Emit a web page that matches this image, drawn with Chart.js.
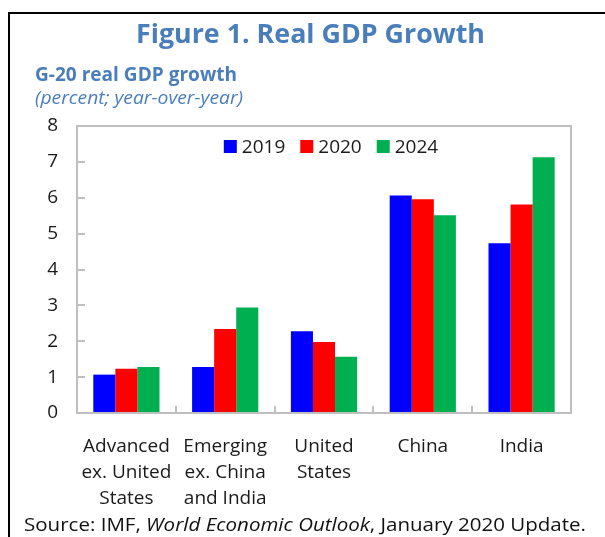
<!DOCTYPE html>
<html>
<head>
<meta charset="utf-8">
<script src="https://cdn.jsdelivr.net/npm/chart.js@4.4.1/dist/chart.umd.min.js"></script>
<style>
  html, body { margin: 0; padding: 0; background: #fff; overflow: hidden; }
  #wrap { position: relative; width: 605px; height: 537px; font-family: "Open Sans", sans-serif; }
  #frame { position: absolute; left: 8px; top: 12px; width: 640px; height: 600px;
           border-left: 2px solid #000; border-top: 2px solid #000; }
  .txt { position: absolute; white-space: nowrap; line-height: 1; transform-origin: 0 0; }
  .blue { color: #4a7ebb; }
  #chart { position: absolute; left: 0; top: 0; }
</style>
</head>
<body>
<div id="wrap">
  <div id="frame"></div>
  <canvas id="chart" width="605" height="537"></canvas>
  <div class="txt blue" style="left:136px;top:19px;font-size:27px;font-weight:700" data-w="349">Figure 1. Real GDP Growth</div>
  <div class="txt blue" style="left:35px;top:64px;font-size:20px;font-weight:700" data-w="202">G-20 real GDP growth</div>
  <div class="txt blue" style="left:35px;top:88px;font-size:19px;font-style:italic" data-w="208">(percent; year-over-year)</div>
  <div class="txt" style="left:24px;top:515px;font-size:19px;color:#111" data-w="562">Source: IMF, <i>World Economic Outlook</i>, January 2020 Update.</div>
</div>
<script>
// data
const categories = [
  ['Advanced', 'ex. United', 'States'],
  ['Emerging', 'ex. China', 'and India'],
  ['United', 'States'],
  'China',
  'India'
];
const years = ['2019', '2020', '2024'];
const growth2019 = [1.07, 1.28, 2.28, 6.06, 4.73];
const growth2020 = [1.23, 2.34, 1.98, 5.96, 5.81];
const growth2024 = [1.28, 2.94, 1.57, 5.51, 7.13];
const yMin = 0;
const yMax = 8;
const yStep = 1;

const seriesColors = ['#0000ff', '#ff0000', '#00b050'];
const axisFont = { family: '"Open Sans", sans-serif', size: 19 };
const textColor = '#1a1a1a';

// squeeze the html texts to the measured widths
document.querySelectorAll('[data-w]').forEach(el => {
  const w = el.getBoundingClientRect().width;
  el.style.transform = 'scaleX(' + (+el.dataset.w / w) + ')';
});

// grey plot box with inward ticks
const plotFrame = {
  id: 'plotFrame',
  afterDatasetsDraw(chart) {
    const { ctx, chartArea: a, scales } = chart;
    ctx.save();
    ctx.strokeStyle = '#bfbfbf';
    ctx.lineWidth = 2;
    ctx.strokeRect(a.left, a.top, a.right - a.left, a.bottom - a.top);
    ctx.beginPath();
    scales.y.ticks.forEach(t => {
      const y = Math.round(scales.y.getPixelForValue(t.value));
      if (y <= a.top + 1 || y >= a.bottom - 1) return;
      ctx.moveTo(a.left, y);
      ctx.lineTo(a.left + 8, y);
    });
    const n = chart.data.labels.length;
    for (let i = 1; i < n; i++) {
      const x = Math.round((scales.x.getPixelForTick(i - 1) + scales.x.getPixelForTick(i)) / 2);
      ctx.moveTo(x, a.bottom);
      ctx.lineTo(x, a.bottom - 7);
    }
    ctx.stroke();
    ctx.restore();
  }
};

// legend drawn inside the plot area
const innerLegend = {
  id: 'innerLegend',
  afterDraw(chart) {
    const { ctx, chartArea: a } = chart;
    ctx.save();
    ctx.font = axisFont.size + 'px ' + axisFont.family;
    ctx.textBaseline = 'middle';
    const box = 13, gap = 5, space = 15;
    const items = chart.data.datasets.map(ds => ({
      label: ds.label, color: ds.backgroundColor, w: ctx.measureText(ds.label).width
    }));
    const total = items.reduce((s, it) => s + box + gap + it.w, 0) + space * (items.length - 1);
    let x = (a.left + a.right) / 2 + 7 - total / 2;
    const y = a.top + 20.5;
    items.forEach(it => {
      ctx.fillStyle = it.color;
      ctx.fillRect(x, y - box / 2, box, box);
      ctx.fillStyle = textColor;
      ctx.fillText(it.label, x + box + gap, y + 1);
      x += box + gap + it.w + space;
    });
    ctx.restore();
  }
};

new Chart(document.getElementById('chart'), {
  type: 'bar',
  data: {
    labels: categories,
    datasets: [
      { label: years[0], data: growth2019, backgroundColor: seriesColors[0] },
      { label: years[1], data: growth2020, backgroundColor: seriesColors[1] },
      { label: years[2], data: growth2024, backgroundColor: seriesColors[2] }
    ]
  },
  options: {
    responsive: false,
    animation: false,
    layout: { padding: { left: 0, top: 126, right: 34, bottom: 0 } },
    datasets: {
      bar: { categoryPercentage: 0.67, barPercentage: 1, borderWidth: 0 }
    },
    plugins: {
      legend: { display: false },
      tooltip: { enabled: false }
    },
    scales: {
      x: {
        grid: { display: false, drawTicks: false },
        border: { display: false },
        ticks: { font: { ...axisFont, lineHeight: 1.39 }, color: textColor, padding: 20, maxRotation: 0, autoSkip: false },
        afterFit(scale) { scale.height = 124; }
      },
      y: {
        min: yMin,
        max: yMax,
        grid: { display: false, drawTicks: false },
        border: { display: false },
        ticks: { stepSize: yStep, font: axisFont, color: textColor, padding: 19 },
        afterFit(scale) { scale.width = 77; }
      }
    }
  },
  plugins: [plotFrame, innerLegend]
});
</script>
</body>
</html>
